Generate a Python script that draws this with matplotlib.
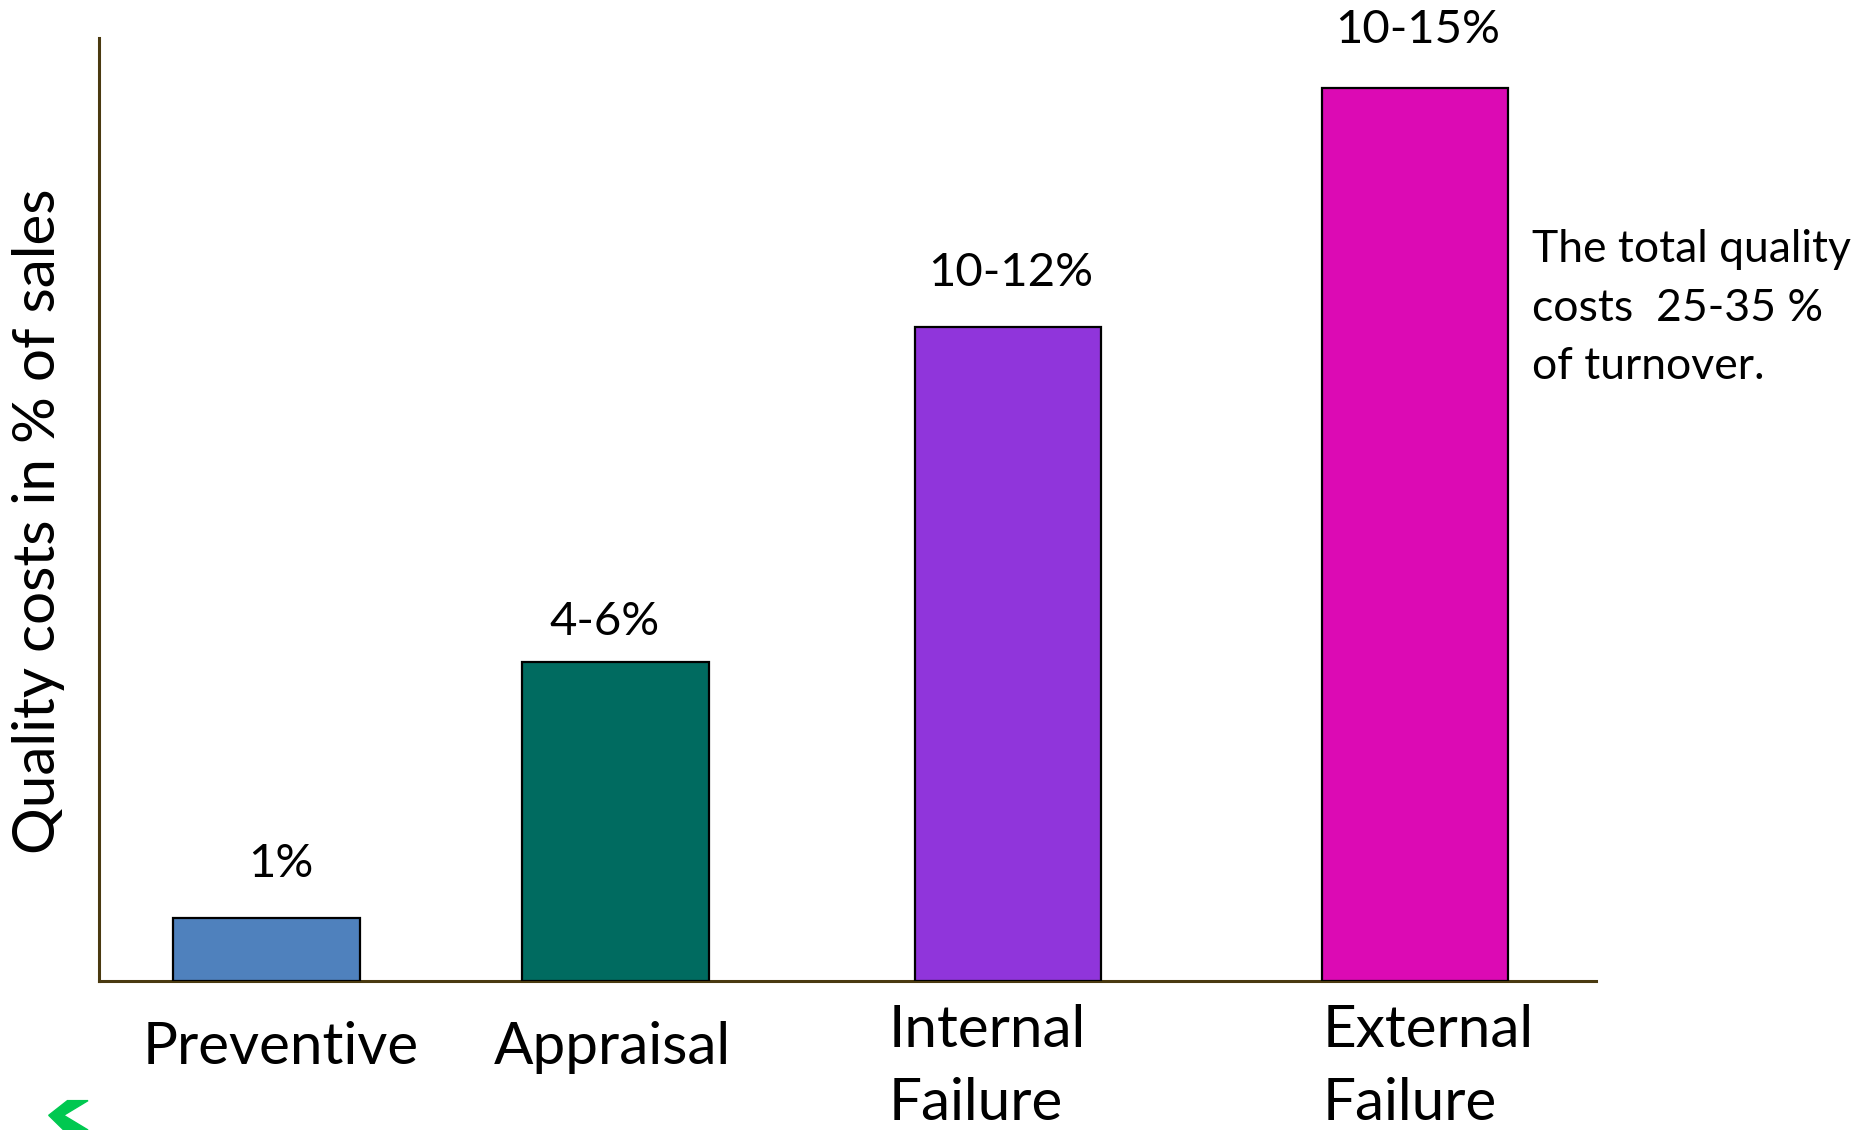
import matplotlib
matplotlib.use("Agg")
import matplotlib.pyplot as plt
from matplotlib.patches import Polygon

# chart data (relative heights)
categories = ["Preventive", "Appraisal", "Internal\nFailure", "External\nFailure"]
heights = [1.0, 5.07, 10.4, 14.2]
value_labels = ["1%", "4-6%", "10-12%", "10-15%"]
positions = [1.116, 3.447, 6.072, 8.791]
colors = ["#4F81BD", "#006B60", "#9035DB", "#DC0AB4"]
note = "The total quality\ncosts  25-35 %\nof turnover."

# small nudges of the labels, as placed in the original slide
cat_shift = [0.10, -0.02, -0.80, -0.62]
val_shift = [0.10, -0.07, 0.02, 0.02]
val_lift = [24, 14, 24, 27]

plt.rcParams["font.family"] = ["Lato", "DejaVu Sans"]

fig = plt.figure(figsize=(18.73, 11.30), dpi=100)
ax = fig.add_axes([0.0529, 0.1319, 0.7992, 0.8345])

bars = ax.bar(positions, heights, width=1.249, color=colors,
              edgecolor="black", linewidth=1.6, zorder=3)

for b, lab, dx, dy in zip(bars, value_labels, val_shift, val_lift):
    ax.annotate(lab, (b.get_x() + b.get_width() / 2 + dx, b.get_height()),
                xytext=(0, dy), textcoords="offset points",
                ha="center", va="bottom", fontsize=34, annotation_clip=False)

ax.set_xlim(0, 10)
ax.set_ylim(0, 15)
ax.set_yticks([])
ax.set_xticks([])

axis_col = "#4A3A10"
for side in ["top", "right"]:
    ax.spines[side].set_visible(False)
for side in ["left", "bottom"]:
    ax.spines[side].set_color(axis_col)
    ax.spines[side].set_linewidth(2.2)

# category labels under the axis
for x, cat, dx in zip(positions, categories, cat_shift):
    if "\n" in cat:
        ax.text(x + dx, -0.36, cat, ha="left", va="top", fontsize=42,
                linespacing=1.47)
    else:
        ax.text(x + dx, -0.63, cat, ha="center", va="top", fontsize=42)

fig.text(0.0203, 0.539, "Quality costs in % of sales", rotation=90,
         ha="center", va="center", fontsize=42)

fig.text(0.818, 0.797, note, ha="left", va="top", fontsize=32, linespacing=1.53)

# small green chevron fragment in the lower-left corner
fig.patches.append(Polygon([[0.047, 0.0], [0.034, 0.013], [0.047, 0.026],
                            [0.036, 0.026], [0.026, 0.013], [0.034, 0.0]],
                           closed=True, transform=fig.transFigure,
                           color="#00C850"))

fig.savefig("out.png", dpi=100)
plt.close(fig)
